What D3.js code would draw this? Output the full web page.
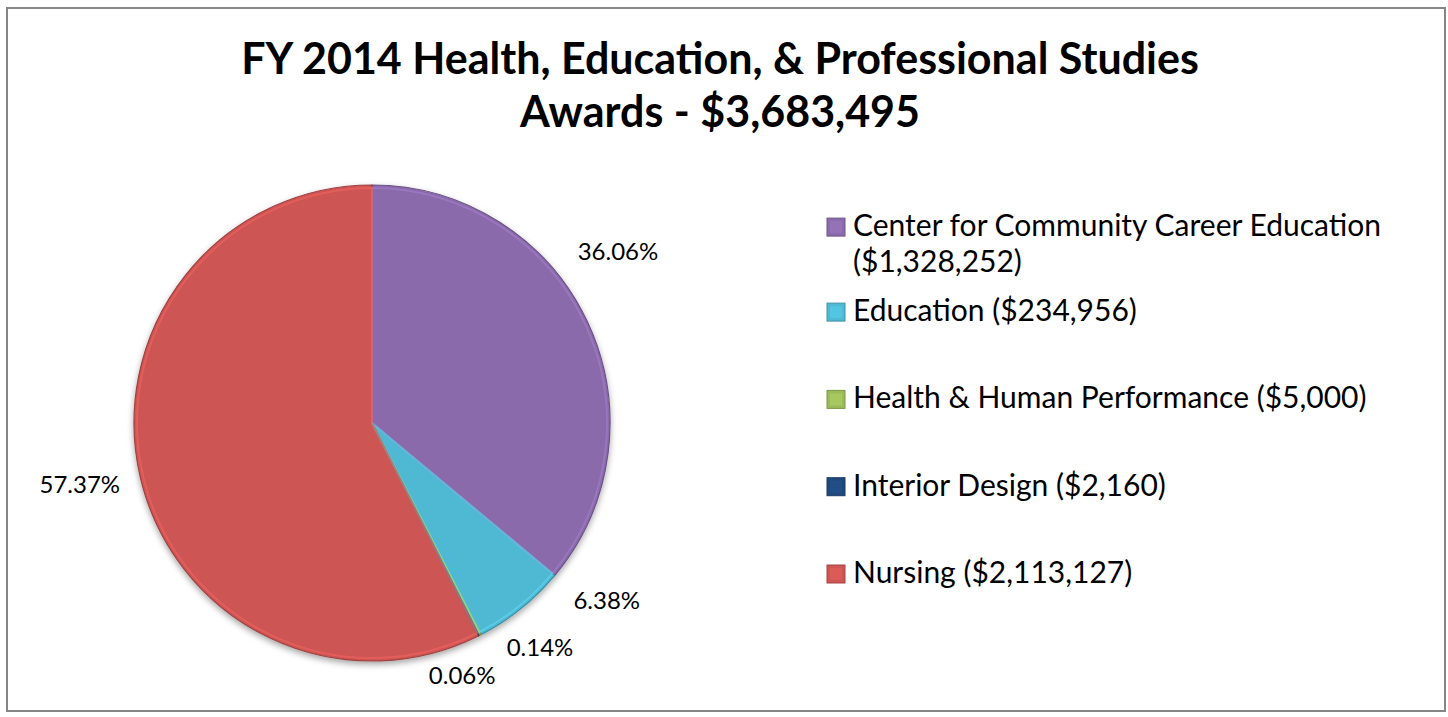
<!DOCTYPE html>
<html>
<head>
<meta charset="utf-8">
<script src="https://cdn.jsdelivr.net/npm/d3@7"></script>
<style>
  html, body { margin: 0; padding: 0; background: #fff; }
  svg { display: block; }
</style>
</head>
<body>
<div id="chart"></div>
<script>
// ---------- data ----------
const titleLines = ["FY 2014 Health, Education, & Professional Studies", "Awards - $3,683,495"];
const categories = ["Center for Community Career Education", "Education", "Health & Human Performance", "Interior Design", "Nursing"];
const amounts = [1328252, 234956, 5000, 2160, 2113127];
const colors = ["#8a6bab", "#4fb8d2", "#9bbb59", "#1f497d", "#cd5553"];

// ---------- layout ----------
const W = 1448, H = 717;
const cx = 372, cy = 423, R = 238;
// label placement relative to slice mid-angle (degrees nudge, radius factor)
const labelNudge = [-10, -14.3, -9.9, 6.9, 1.5];
const labelRad = [1.263, 1.235, 1.176, 1.122, 1.254];

const svg = d3.select("#chart").append("svg").attr("width", W).attr("height", H);
const defs = svg.append("defs");
const f = defs.append("filter").attr("id", "shadow").attr("x", "-20%").attr("y", "-20%").attr("width", "140%").attr("height", "140%");
f.append("feDropShadow").attr("dx", 0).attr("dy", 3).attr("stdDeviation", 3).attr("flood-color", "#000").attr("flood-opacity", 0.35);

svg.append("rect").attr("width", W).attr("height", H).attr("fill", "#fff");
svg.append("rect").attr("x", 7).attr("y", 8).attr("width", 1438).attr("height", 703)
  .attr("fill", "#fff").attr("stroke", "#868686").attr("stroke-width", 2);

// title
const title = svg.append("text").attr("text-anchor", "middle")
  .attr("font-family", "Lato, 'Open Sans', sans-serif").attr("font-weight", "bold")
  .attr("font-size", 43).attr("fill", "#000");
titleLines.forEach((t, i) => {
  title.append("tspan").attr("x", 720).attr("y", 74 + i * 53).text(t);
});

// pie
const total = d3.sum(amounts);
const data = categories.map((c, i) => ({ name: c, value: amounts[i], color: colors[i], i }));
const pie = d3.pie().value(d => d.value).sort(null);
const arcs = pie(data);
const arc = d3.arc().innerRadius(0).outerRadius(R);
const innerArc = d3.arc().innerRadius(0).outerRadius(R - 3);

const g = svg.append("g").attr("transform", `translate(${cx},${cy})`);
const shadowG = g.append("g").attr("filter", "url(#shadow)");
shadowG.selectAll("path.slice").data(arcs).join("path")
  .attr("class", "slice")
  .attr("d", arc)
  .attr("fill", d => d.data.color)
  .attr("stroke", d => d3.color(d.data.color).darker(0.7))
  .attr("stroke-width", 1.2)
  .attr("stroke-linejoin", "round");
g.selectAll("path.hl").data(arcs).join("path")
  .attr("class", "hl")
  .attr("d", innerArc)
  .attr("fill", "none")
  .attr("stroke", d => d3.color(d.data.color).brighter(0.6))
  .attr("stroke-width", 2)
  .attr("stroke-opacity", 0.45)
  .attr("stroke-linejoin", "round");

// labels
const pct = d3.format(".2%");
g.selectAll("text.lbl").data(arcs).join("text")
  .attr("class", "lbl")
  .attr("font-family", "Lato, 'Open Sans', sans-serif")
  .attr("font-size", 24)
  .attr("fill", "#000")
  .attr("text-anchor", "middle")
  .attr("dominant-baseline", "central")
  .attr("transform", d => {
    const mid = (d.startAngle + d.endAngle) / 2 + labelNudge[d.data.i] * Math.PI / 180;
    const p = d3.pointRadial(mid, R * labelRad[d.data.i]);
    return `translate(${p[0]},${p[1]})`;
  })
  .text(d => pct(d.data.value / total));

// legend
const money = d3.format("$,");
const legX = 827, txtX = 853, sw = 18, maxW = 580, lineH = 36;
const legFont = 30;
const measure = svg.append("text").attr("font-family", "Lato, 'Open Sans', sans-serif").attr("font-size", legFont).attr("visibility", "hidden");
function wrap(str) {
  const words = str.split(" ");
  const lines = [];
  let cur = "";
  words.forEach(w => {
    const test = cur ? cur + " " + w : w;
    measure.text(test);
    if (measure.node().getComputedTextLength() > maxW && cur) {
      lines.push(cur); cur = w;
    } else cur = test;
  });
  lines.push(cur);
  return lines;
}
const lastBase = 583, step = 87.3, firstGap = 49;
const legend = svg.append("g");
data.forEach((d, i) => {
  const lines = wrap(`${d.name} (${money(d.value)})`);
  let base;
  if (i === 0) base = lastBase - step * (data.length - 2) - firstGap;
  else base = lastBase - step * (data.length - 1 - i);
  const firstBase = base - (lines.length - 1) * lineH;
  const c = d3.color(d.color);
  legend.append("rect").attr("x", legX).attr("y", firstBase - sw).attr("width", sw).attr("height", sw)
    .attr("fill", d.color).attr("stroke", c.darker(0.6)).attr("stroke-width", 1);
  legend.append("rect").attr("x", legX + 3).attr("y", firstBase - sw + 3).attr("width", sw - 6).attr("height", sw - 6)
    .attr("fill", c.brighter(0.3)).attr("opacity", 0.6);
  const t = legend.append("text").attr("font-family", "Lato, 'Open Sans', sans-serif").attr("font-size", legFont).attr("fill", "#000");
  lines.forEach((l, k) => t.append("tspan").attr("x", txtX).attr("y", firstBase + k * lineH).text(l));
});
measure.remove();
</script>
</body>
</html>
